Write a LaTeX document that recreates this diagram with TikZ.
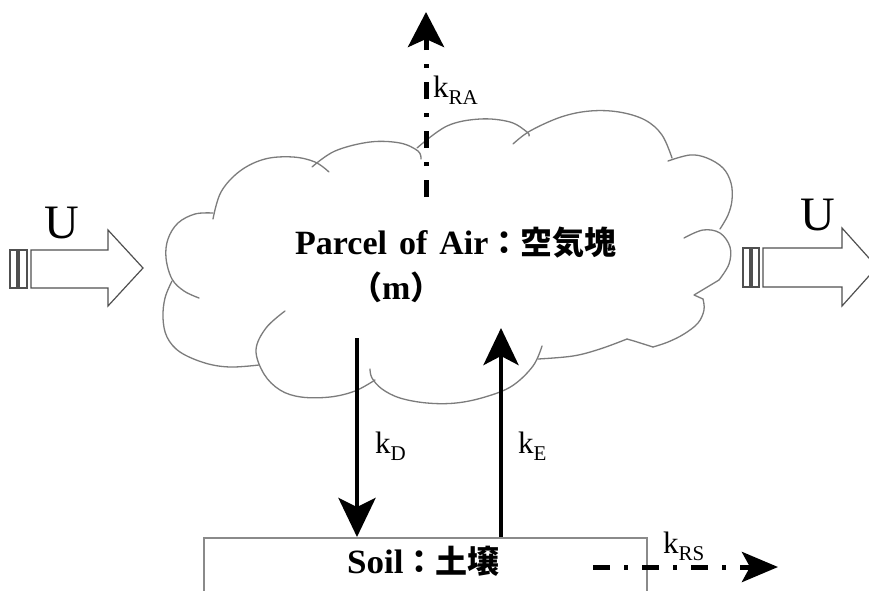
\documentclass[tikz,border=0pt]{standalone}
\usepackage{fontspec}
\setmainfont{Liberation Serif}
\newfontfamily\cjk{Noto Sans CJK JP}
\usetikzlibrary{arrows.meta}
\definecolor{cloudgray}{HTML}{7C7C7C}
\definecolor{windgray}{HTML}{505050}
\definecolor{boxgray}{HTML}{8A8A8A}
\newcommand\kkk[1]{k\raisebox{-7pt}{\fontsize{21}{21}\selectfont #1}}
\begin{document}
\begin{tikzpicture}[x=1pt,y=-1pt,
  cloudline/.style={draw=cloudgray,line width=1.3pt,line join=round,line cap=round},
  fluxline/.style={line width=4.5pt},
  dashdot/.style={line width=5pt,dash pattern=on 17pt off 14pt on 4pt off 14pt},
  windbox/.style={draw=windgray,line width=1.2pt,fill=white},
  lbl/.style={inner sep=0pt,anchor=base west,font=\fontsize{31}{34}\selectfont,text=black},
  ttl/.style={inner sep=0pt,anchor=base west,font=\fontsize{34}{38}\selectfont\bfseries,text=black},
  bigU/.style={inner sep=0pt,anchor=base west,font=\fontsize{48}{50}\selectfont,text=black},
]
\useasboundingbox (0,0) rectangle (869,590);
\clip (0,0) rectangle (869,590);
\fill[white] (0,0) rectangle (869,590);

% ---- cloud ----
\draw[cloudline] plot[smooth,tension=0.6] coordinates {(213,219) (221,192) (240,171) (265,159) (293,157) (315,162) (329,172)};
\draw[cloudline] plot[smooth,tension=0.6] coordinates {(312,167) (335,151) (370,142) (400,143) (418,151) (421,159)};
\draw[cloudline] plot[smooth,tension=0.6] coordinates {(417,148) (447,126) (480,119) (510,122) (527,132) (529,136)};
\draw[cloudline] plot[smooth,tension=0.6] coordinates {(513,144) (530,131) (561,117) (590,111) (619,112) (645,120) (662,135) (672,158)};
\draw[cloudline] plot[smooth,tension=0.6] coordinates {(668,161) (690,155) (707,158) (723,168) (731,183) (732,200) (728,215) (720,229)};
\draw[cloudline] plot[smooth,tension=0.6] coordinates {(684,238) (703,230) (720,233) (730,247) (729,264) (719,280)};
\draw[cloudline] (719,280) -- (694,295) -- (703,299);
\draw[cloudline] plot[smooth,tension=0.6] coordinates {(703,299) (704,310) (698,323) (684,334) (668,342) (653,347)};
\draw[cloudline] (653,347) -- (634,341) -- (627,339);
\draw[cloudline] plot[smooth,tension=0.6] coordinates {(627,339) (600,349) (573,356) (538,359)};
\draw[cloudline] plot[smooth,tension=0.6] coordinates {(542,346) (533,366) (512,386) (485,397) (456,403) (427,403) (400,398) (382,389) (372,378) (370,369)};
\draw[cloudline] plot[smooth,tension=0.6] coordinates {(375,380) (355,391) (330,397) (301,397) (280,390) (264,374) (256,350) (266,328) (285,311)};
\draw[cloudline] plot[smooth,tension=0.6] coordinates {(259,365) (230,367) (205,363) (180,352) (167,337) (163,318) (165,298) (172,281)};
\draw[cloudline] plot[smooth,tension=0.6] coordinates {(199,298) (184,291) (172,279) (166,258) (168,239) (178,223) (195,214) (213,213)};

% ---- soil box ----
\draw[draw=boxgray,line width=1.5pt] (204,600) -- (204,538) -- (647,538) -- (647,600);

% ---- wind arrows ----
\node[bigU] (uL) at (44,238) {U};
\draw[windbox] (10,250) rectangle (17,288);
\draw[windbox] (19,250) rectangle (27,288);
\draw[windbox] (31,250) -- (108,250) -- (108,230) -- (143,268) -- (108,306) -- (108,288) -- (31,288) -- cycle;

\node[bigU] (uR) at (800,230) {U};
\draw[windbox] (743,248) rectangle (750,287);
\draw[windbox] (752,248) rectangle (759,287);
\draw[windbox] (763,248) -- (842,248) -- (842,228) -- (877,267) -- (842,306) -- (842,287) -- (763,287) -- cycle;

% ---- texts ----
\node[ttl] (parcel) at (295,254) {Parcel\hspace{12pt}of\hspace{12pt}Air{\cjk\fontsize{32}{36}\selectfont ：空気塊}};
\node[ttl] (mass) at (350,299) {{\cjk\fontsize{32}{36}\selectfont （}m{\cjk\fontsize{32}{36}\selectfont ）}};
\node[ttl] (soil) at (347,573) {\scalebox{1.03}[1]{Soil}{\cjk\fontsize{32}{36}\selectfont ：土壌}};

% ---- flux arrows ----
\coordinate (raS) at (426,197);
\coordinate (raE) at (426,12);
\draw[dashdot,-{Stealth[length=35pt,width=36pt,inset=8pt]}] (raS) -- (raE);
\node[lbl] (kra) at (433,97) {\kkk{RA}};

\coordinate (kdS) at (357,338);
\coordinate (kdE) at (357,537);
\draw[fluxline,-{Stealth[length=39pt,width=37pt,inset=9pt]}] (kdS) -- (kdE);
\node[lbl] (kd) at (375,453) {\kkk{D}};

\coordinate (keS) at (501,537);
\coordinate (keE) at (501,328);
\draw[fluxline,-{Stealth[length=37pt,width=35pt,inset=9pt]}] (keS) -- (keE);
\node[lbl] (ke) at (518,453) {\kkk{E}};

\coordinate (rsS) at (593,567);
\coordinate (rsE) at (778,567);
\draw[dashdot,-{Stealth[length=36pt,width=30pt,inset=8pt]}] (rsS) -- (rsE);
\node[lbl] (krs) at (663,553) {\kkk{RS}};
\end{tikzpicture}
\end{document}
